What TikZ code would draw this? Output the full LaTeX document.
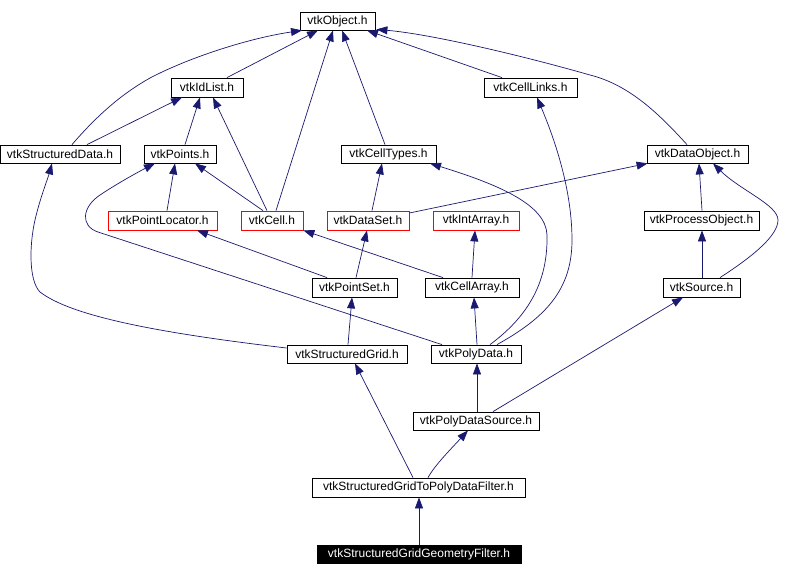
\documentclass[tikz,border=0pt]{standalone}
\usepackage{fontspec}
\setmainfont{Liberation Sans}
\usetikzlibrary{calc,arrows.meta}
\definecolor{edgecol}{HTML}{191970}
\begin{document}
\begin{tikzpicture}[x=1pt,y=-1pt,
  box/.style={draw=black, line width=0.8pt, rectangle, inner sep=0pt, fill=white, text=black, font=\fontsize{12}{14}\selectfont},
  redbox/.style={box, draw=red},
  blackbox/.style={box, fill=black, text=white},
  e/.style={draw=edgecol, line width=0.7pt, -{Triangle[length=11pt,width=8pt]}, fill=none}]
\useasboundingbox (0,0) rectangle (812,576);
% nodes
\node[box, minimum width=75pt, minimum height=18pt] (obj) at (337.5,21) {vtkObject.h};
\node[box, minimum width=72pt, minimum height=19pt] (idl) at (207,87.5) {vtkIdList.h};
\node[box, minimum width=93pt, minimum height=19pt] (cl) at (530.5,87.5) {vtkCellLinks.h};
\node[box, minimum width=120pt, minimum height=18pt] (sd) at (60,154) {vtkStructuredData.h};
\node[box, minimum width=72pt, minimum height=18pt] (pts) at (180,154) {vtkPoints.h};
\node[box, minimum width=95pt, minimum height=18pt] (ct) at (388.5,154) {vtkCellTypes.h};
\node[box, minimum width=101pt, minimum height=18pt] (dob) at (697.5,154) {vtkDataObject.h};
\node[redbox, minimum width=109pt, minimum height=19pt] (pl) at (162.5,220.5) {vtkPointLocator.h};
\node[redbox, minimum width=62pt, minimum height=19pt] (cell) at (272,220.5) {vtkCell.h};
\node[redbox, minimum width=82pt, minimum height=19pt] (ds) at (368,220.5) {vtkDataSet.h};
\node[redbox, minimum width=86pt, minimum height=19pt] (ia) at (476,220.5) {vtkIntArray.h};
\node[box, minimum width=115pt, minimum height=19pt] (po) at (701.5,220.5) {vtkProcessObject.h};
\node[box, minimum width=85pt, minimum height=19pt] (ps) at (354.5,287.5) {vtkPointSet.h};
\node[box, minimum width=94pt, minimum height=19pt] (ca) at (472,287.5) {vtkCellArray.h};
\node[box, minimum width=77pt, minimum height=19pt] (src) at (701.5,287.5) {vtkSource.h};
\node[box, minimum width=120pt, minimum height=18pt] (sg) at (347,354) {vtkStructuredGrid.h};
\node[box, minimum width=90pt, minimum height=18pt] (pd) at (476,354) {vtkPolyData.h};
\node[box, minimum width=126pt, minimum height=18pt] (pds) at (476,421) {vtkPolyDataSource.h};
\node[box, minimum width=213pt, minimum height=19pt] (sgf) at (418.5,487.5) {vtkStructuredGridToPolyDataFilter.h};
\node[blackbox, minimum width=204pt, minimum height=18pt] (sggf) at (419,554) {vtkStructuredGridGeometryFilter.h};
% edges
\draw[e] ($(sd.north)+(12,0)$) .. controls (100,112) and (125,92) .. (150,78) .. controls (190,57) and (250,38) .. ($(obj.south)+(-35.5,0)$);
\draw[e] ($(sd.north)+(27,0)$) -- ($(idl.south)+(-25,0)$);
\draw[e] ($(idl.north)+(20,0)$) -- ($(obj.south)+(-19.5,0)$);
\draw[e] ($(pts.north)+(5,0)$) -- ($(idl.south)+(-7,0)$);
\draw[e] ($(cell.north)+(-5,0)$) -- ($(idl.south)+(6,0)$);
\draw[e] ($(cell.north)+(4,0)$) -- ($(obj.south)+(-4.5,0)$);
\draw[e] ($(ct.north)+(-3.5,0)$) -- ($(obj.south)+(4.5,0)$);
\draw[e] ($(cl.north)+(-28.5,0)$) -- ($(obj.south)+(29.5,0)$);
\draw[e] ($(dob.north)+(-10.5,0)$) .. controls (660,115) and (630,85) .. (590,75) .. controls (520,55) and (430,34) .. ($(obj.south east)+(1,-1)$);
\draw[e] ($(pl.north)+(4.5,0)$) -- ($(pts.south)+(-5,0)$);
\draw[e] ($(cell.north)+(-9,0)$) -- ($(pts.south)+(15,0)$);
\draw[e] ($(pd.north)+(-34,0)$) -- (98,232) .. controls (80,226) and (82,207) .. (100,195) .. controls (118,183) and (140,171) .. ($(pts.south)+(-25,0)$);
\draw[e] ($(ps.north)+(-27.5,0)$) -- ($(pl.south)+(34.5,0)$);
\draw[e] ($(ca.north)+(-29,0)$) -- (cell.south east);
\draw[e] ($(ps.north)+(1.5,0)$) -- ($(ds.south)+(-1,0)$);
\draw[e] ($(ds.north)+(4,0)$) -- ($(ct.south)+(-6.5,0)$);
\draw[e] ($(ds.east)+(0,-7.5)$) -- ($(dob.south west)+(1,0)$);
\draw[e] ($(pd.north)+(14,0)$) .. controls (530,315) and (548,280) .. (547,235) .. controls (546,205) and (500,185) .. ($(ct.south)+(41.5,0)$);
\draw[e] ($(pd.north)+(21,0)$) .. controls (545,318) and (572,290) .. (572,240) .. controls (572,190) and (555,140) .. ($(cl.south)+(6.5,0)$);
\draw[e] (ca.north) -- ($(ia.south)+(-1,0)$);
\draw[e] ($(pd.north)+(1,0)$) -- ($(ca.south)+(2,0)$);
\draw[e] ($(po.north)+(0.5,0)$) -- ($(dob.south)+(1.5,0)$);
\draw[e] ($(src.north)+(0.5,0)$) -- ($(po.south)+(0.5,0)$);
\draw[e] ($(src.north)+(18.5,0)$) .. controls (755,255) and (778,235) .. (778,220) .. controls (778,205) and (740,190) .. ($(dob.south)+(15.5,0)$);
\draw[e] ($(pds.north)+(17,0)$) -- ($(src.south)+(-18.5,0)$);
\draw[e] ($(pds.north)+(1,0)$) -- ($(pd.south)+(1,0)$);
\draw[e] ($(sg.north)+(1,0)$) -- ($(ps.south)+(-2.5,0)$);
\draw[e] ($(sg.west)+(0,-6)$) .. controls (150,332) and (70,315) .. (40,292) .. controls (28,280) and (29,240) .. (37,212) .. controls (42,193) and (48,178) .. ($(sd.south)+(-8,0)$);
\draw[e] ($(sgf.north)+(-5.5,0)$) -- ($(sg.south)+(8,0)$);
\draw[e] ($(sgf.north)+(9.5,0)$) .. controls (435,465) and (450,450) .. ($(pds.south)+(-8,0)$);
\draw[e] (sggf.north) -- ($(sgf.south)+(0.5,0)$);
\end{tikzpicture}
\end{document}
